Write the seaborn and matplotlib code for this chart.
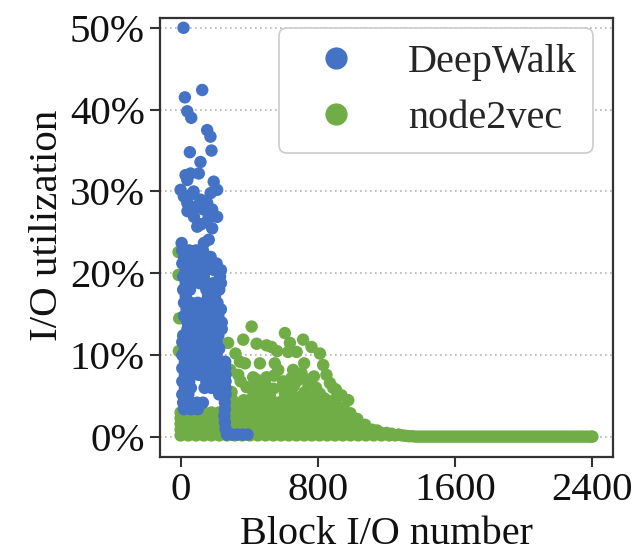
import matplotlib
matplotlib.use("Agg")
import matplotlib.pyplot as plt
from matplotlib.lines import Line2D
from matplotlib.ticker import PercentFormatter
import seaborn as sns
import pandas as pd

# ---------------- data (x = block I/O number, y = I/O utilization in %) ----------------
series_names = ["DeepWalk", "node2vec"]
series_colors = ["#4472C4", "#70AD47"]
x_ticks = [0, 800, 1600, 2400]
y_ticks = [0, 10, 20, 30, 40, 50]

# DeepWalk: sparse high points
dw_upper = [(17, 50.0), (126, 42.4), (25, 41.5), (39, 39.8), (62, 39.0), (155, 37.5),
            (174, 36.7), (54, 34.8), (180, 35.0), (116, 33.6), (29, 32.0), (58, 32.2),
            (106, 32.2), (39, 31.4), (193, 31.2), (213, 30.2), (0, 30.2), (19, 29.4),
            (76, 30.0), (60, 29.6), (116, 29.0), (175, 29.8), (155, 28.6), (39, 28.6),
            (95, 28.2), (134, 27.8), (184, 27.8), (40, 27.6), (213, 26.9), (78, 26.9),
            (160, 26.6), (120, 26.0), (97, 25.7), (184, 25.5), (164, 24.1), (6, 23.7),
            (136, 23.7)]
# DeepWalk: dense column
dw_column = [(10, 22.8), (50, 22.8), (90, 22.8), (130, 22.8),
             (20, 22.0), (60, 22.0), (100, 22.0), (140, 22.0), (175, 22.0),
             (10, 21.2), (50, 21.2), (90, 21.2), (130, 21.2), (175, 21.2), (210, 21.2),
             (30, 20.4), (70, 20.4), (110, 20.4), (150, 20.4), (195, 20.4), (235, 20.4),
             (15, 19.6), (55, 19.6), (95, 19.6), (135, 19.6), (230, 19.6),
             (30, 18.8), (70, 18.8), (110, 18.8), (150, 18.8), (190, 18.8), (235, 18.8),
             (15, 18.0), (55, 18.0), (150, 18.0), (190, 18.0), (225, 18.0),
             (30, 17.2), (160, 17.2), (200, 17.2),
             (20, 16.4), (60, 16.4), (100, 16.4), (140, 16.4), (180, 16.4), (215, 16.4),
             (35, 15.6), (75, 15.6), (115, 15.6), (155, 15.6), (195, 15.6), (235, 15.6),
             (20, 14.8), (60, 14.8), (100, 14.8), (140, 14.8), (180, 14.8), (220, 14.8),
             (40, 14.0), (80, 14.0), (120, 14.0), (160, 14.0), (200, 14.0), (240, 14.0),
             (40, 13.2), (80, 13.2), (120, 13.2), (160, 13.2), (200, 13.2), (240, 13.2),
             (15, 12.4), (60, 12.4), (100, 12.4), (140, 12.4), (180, 12.4), (220, 12.4),
             (10, 11.6), (50, 11.6), (90, 11.6), (130, 11.6), (170, 11.6), (210, 11.6),
             (25, 10.8), (65, 10.8), (105, 10.8), (145, 10.8), (185, 10.8), (225, 10.8),
             (10, 10.0), (50, 10.0), (90, 10.0), (130, 10.0), (170, 10.0), (210, 10.0),
             (25, 9.2), (65, 9.2), (105, 9.2), (145, 9.2), (185, 9.2), (225, 9.2), (260, 9.2),
             (10, 8.4), (50, 8.4), (90, 8.4), (130, 8.4), (170, 8.4), (215, 8.4), (260, 8.4),
             (25, 7.6), (65, 7.6), (105, 7.6), (145, 7.6), (185, 7.6), (225, 7.6), (262, 7.6),
             (10, 6.8), (50, 6.8), (150, 6.8), (190, 6.8), (230, 6.8), (262, 6.8),
             (25, 6.0), (60, 6.0), (140, 6.0), (180, 6.0), (225, 6.0), (262, 6.0),
             (10, 5.2), (45, 5.2), (225, 5.2), (262, 5.2),
             (15, 4.2), (55, 4.2), (95, 4.2), (130, 4.2), (258, 4.2),
             (20, 3.4), (60, 3.4), (100, 3.4), (258, 3.4)]
# DeepWalk: low tail
dw_tail = [(255, 2.6), (258, 1.8), (262, 1.0), (270, 0.3), (300, 0.3), (330, 0.3),
           (360, 0.3), (390, 0.3)]

# node2vec: flat floor up to the end
n2v_floor = [(1270, 0.3), (1290, 0.2), (1310, 0.15), (1330, 0.1), (1350, 0.1),
             (1370, 0.05), (1390, 0.05), (1410, 0.05), (1430, 0.05), (1450, 0.05),
             (1470, 0.05), (1490, 0.05), (1510, 0.05), (1530, 0.05), (1550, 0.05),
             (1570, 0.05), (1590, 0.05), (1610, 0.05), (1630, 0.05), (1650, 0.05),
             (1670, 0.05), (1690, 0.05), (1710, 0.05), (1730, 0.05), (1750, 0.05),
             (1770, 0.05), (1790, 0.05), (1810, 0.05), (1830, 0.05), (1850, 0.05),
             (1870, 0.05), (1890, 0.05), (1910, 0.05), (1930, 0.05), (1950, 0.05),
             (1970, 0.05), (1990, 0.05), (2010, 0.05), (2030, 0.05), (2050, 0.05),
             (2070, 0.05), (2090, 0.05), (2110, 0.05), (2130, 0.05), (2150, 0.05),
             (2170, 0.05), (2190, 0.05), (2210, 0.05), (2230, 0.05), (2250, 0.05),
             (2270, 0.05), (2290, 0.05), (2310, 0.05), (2330, 0.05), (2350, 0.05),
             (2370, 0.05), (2390, 0.05), (2400, 0.05)]
# node2vec: dense low band
n2v_band = [(0, 0.2), (45, 0.2), (90, 0.2), (135, 0.2), (180, 0.2), (225, 0.2), (270, 0.2),
            (315, 0.2), (360, 0.2), (405, 0.2), (450, 0.2), (495, 0.2), (540, 0.2), (585, 0.2),
            (630, 0.2), (675, 0.2), (720, 0.2), (765, 0.2), (810, 0.2), (855, 0.2), (900, 0.2),
            (945, 0.2), (990, 0.2), (1035, 0.2), (1080, 0.2), (1125, 0.2), (1170, 0.2),
            (1215, 0.2), (1250, 0.2),
            (1170, 0.5), (1200, 0.5), (1230, 0.4),
            (0, 0.9), (45, 0.9), (90, 0.9), (135, 0.9), (180, 0.9), (225, 0.9), (270, 0.9),
            (315, 0.9), (360, 0.9), (405, 0.9), (450, 0.9), (495, 0.9), (540, 0.9), (585, 0.9),
            (630, 0.9), (675, 0.9), (720, 0.9), (765, 0.9), (810, 0.9), (855, 0.9), (900, 0.9),
            (945, 0.9), (990, 0.9), (1035, 0.9), (1080, 0.9), (1115, 0.9), (1145, 0.8),
            (0, 1.6), (45, 1.6), (90, 1.6), (135, 1.6), (180, 1.6), (225, 1.6), (270, 1.6),
            (315, 1.6), (360, 1.6), (405, 1.6), (450, 1.6), (495, 1.6), (540, 1.6), (585, 1.6),
            (630, 1.6), (675, 1.6), (720, 1.6), (765, 1.6), (810, 1.6), (855, 1.6), (900, 1.6),
            (945, 1.6), (990, 1.6), (1035, 1.6), (1075, 1.5),
            (0, 2.3), (45, 2.3), (90, 2.3), (135, 2.3), (180, 2.3), (225, 2.3), (270, 2.3),
            (315, 2.3), (360, 2.3), (405, 2.3), (450, 2.3), (495, 2.3), (540, 2.3), (585, 2.3),
            (630, 2.3), (675, 2.3), (720, 2.3), (765, 2.3), (810, 2.3), (855, 2.3), (900, 2.3),
            (945, 2.3), (990, 2.3), (1030, 2.2),
            (0, 3.0), (45, 3.0), (90, 3.0), (135, 3.0), (180, 3.0), (225, 3.0), (270, 3.0),
            (315, 3.0), (360, 3.0), (405, 3.0), (450, 3.0), (495, 3.0), (540, 3.0), (585, 3.0),
            (630, 3.0), (675, 3.0), (720, 3.0), (765, 3.0), (810, 3.0), (855, 3.0), (900, 3.0),
            (945, 3.0), (990, 2.9),
            (290, 3.7), (330, 3.7), (375, 3.7), (420, 3.7), (465, 3.7), (510, 3.7), (555, 3.7),
            (600, 3.7), (645, 3.7), (690, 3.7), (735, 3.7), (780, 3.7), (825, 3.7), (870, 3.7),
            (915, 3.7), (950, 3.6),
            (405, 4.3), (450, 4.3), (540, 4.3), (585, 4.3), (675, 4.3), (720, 4.3), (810, 4.3),
            (855, 4.3), (900, 4.3)]
# node2vec: scattered higher points
n2v_upper = [(-12, 22.6), (-12, 19.8), (-8, 14.5), (-10, 10.5),
             (414, 13.5), (608, 12.7), (714, 11.9), (277, 11.5), (365, 11.9), (443, 11.4),
             (501, 11.2), (530, 11.0), (637, 11.5), (627, 10.4), (676, 10.4), (763, 11.0),
             (812, 10.2), (831, 8.8), (346, 9.2), (320, 10.2), (375, 9.0), (462, 9.0),
             (549, 9.0), (569, 8.2), (656, 8.2), (705, 7.8), (336, 7.6), (423, 7.3), (501, 7.3),
             (598, 6.8), (676, 6.8), (753, 6.8), (870, 6.6), (889, 6.0), (384, 6.1), (297, 5.5),
             (462, 5.7), (540, 5.9), (608, 5.3), (724, 5.5), (812, 5.3), (938, 5.1), (977, 4.5),
             (562, 10.5), (290, 8.2), (445, 7.0), (777, 7.4), (745, 6.4), (905, 5.8), (790, 6.0),
             (620, 6.4), (591, 6.1), (645, 7.2), (736, 7.0), (545, 7.5), (720, 9.0), (850, 7.6),
             (500, 6.2), (660, 6.2), (420, 6.0), (350, 6.8),
             (697, 4.9), (368, 4.5), (300, 4.6), (420, 4.9), (480, 4.7), (620, 4.8), (760, 4.8),
             (840, 4.7), (900, 4.6), (520, 5.0), (650, 5.1)]

# ---------------- build table (node2vec first so DeepWalk is drawn on top) ----------------
rows = []
for pts in (n2v_floor, n2v_band, n2v_upper):
    rows += [{"x": px, "y": py, "method": "node2vec"} for px, py in pts]
for pts in (dw_upper, dw_column, dw_tail):
    rows += [{"x": px, "y": py, "method": "DeepWalk"} for px, py in pts]
df = pd.DataFrame(rows)

# ---------------- style ----------------
sns.set_style("ticks")
plt.rcParams["font.family"] = ["Liberation Serif", "DejaVu Serif"]
plt.rcParams["font.size"] = 29.5

fig = plt.figure(figsize=(6.39, 5.53), dpi=100)
ax = fig.add_axes([0.2504, 0.1736, 0.7089, 0.7939])

palette = dict(zip(series_names, series_colors))
sns.scatterplot(data=df, x="x", y="y", hue="method", hue_order=series_names,
                palette=palette, s=80, linewidth=0, alpha=1.0, legend=False, ax=ax)

ax.set_xlim(-120, 2520)
ax.set_ylim(-2.44, 51.2)
ax.set_xticks(x_ticks)
ax.set_yticks(y_ticks)
ax.yaxis.set_major_formatter(PercentFormatter(100, decimals=0))
ax.set_axisbelow(True)
ax.yaxis.grid(True, linestyle=(0, (1, 2)), color="#b5b5b5", linewidth=1.2)
ax.xaxis.grid(False)

for sp in ax.spines.values():
    sp.set_visible(True)
    sp.set_color("#333333")
    sp.set_linewidth(1.6)
ax.tick_params(axis="both", direction="out", length=7, width=1.5, color="#333333",
               labelsize=29.5, pad=4, labelcolor="#111111")

ax.set_xlabel("Block I/O number", fontsize=29, labelpad=5, color="#111111")
ax.set_ylabel("I/O utilization", fontsize=29.5, color="#111111")
ax.yaxis.set_label_coords(-0.2075, 0.527)

handles = [Line2D([], [], linestyle="", marker="o", markersize=16, markerfacecolor=c,
                  markeredgewidth=0) for c in series_colors]
leg = ax.legend(handles, series_names, loc="upper right", bbox_to_anchor=(0.956, 0.977),
                borderaxespad=0, handlelength=2.0, handletextpad=0.8, labelspacing=0.45,
                borderpad=0.4, frameon=True, fancybox=True, fontsize=29)
leg.get_frame().set_edgecolor("#cccccc")
leg.get_frame().set_linewidth(1.2)
leg.get_frame().set_alpha(1.0)

fig.savefig("out.png", dpi=100)
